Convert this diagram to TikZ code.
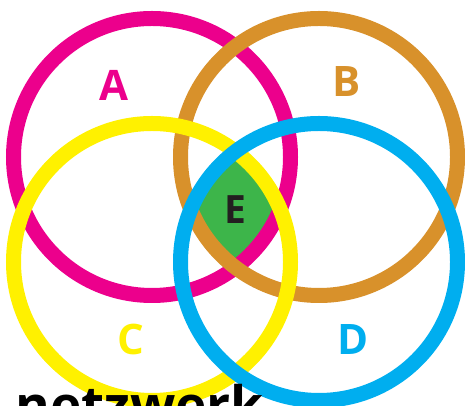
\documentclass[tikz,border=0pt]{standalone}
\usepackage{fontspec}
\setmainfont{Open Sans}
\definecolor{magA}{HTML}{EC008C}
\definecolor{orgB}{HTML}{D8912B}
\definecolor{yelC}{HTML}{FFF100}
\definecolor{cyaD}{HTML}{00AEEF}
\definecolor{grnE}{HTML}{3DB54A}
\definecolor{darkE}{HTML}{231F20}
\begin{document}
\begin{tikzpicture}[x=1pt,y=1pt,
  ring/.style={line width=15pt},
  lbl/.style={font=\fontsize{42}{42}\selectfont\bfseries, anchor=base, inner sep=0pt}]
\useasboundingbox (0,0) rectangle (465,406);
\clip (0,0) rectangle (465,406);
\coordinate (cA) at (152,249);
\coordinate (cB) at (319,249);
\coordinate (cC) at (152,144);
\coordinate (cD) at (319,144);
\begin{scope}
  \clip (cA) circle (138.5);
  \clip (cB) circle (138.5);
  \clip (cC) circle (138.5);
  \fill[grnE] (cD) circle (138.5);
\end{scope}
\draw[ring, magA] (cA) circle (138.5);
\draw[ring, orgB] (cB) circle (138.5);
\draw[ring, yelC] (cC) circle (138.5);
\draw[ring, cyaD] (cD) circle (138.5);
\node[lbl, text=magA] (A) at (113.5,305) {A};
\node[lbl, text=orgB] (B) at (347,309) {B};
\node[lbl, text=yelC] (C) at (131,51) {C};
\node[lbl, text=cyaD] (D) at (353.5,51) {D};
\node[lbl, text=darkE, font=\fontsize{39}{39}\selectfont\bfseries] (E) at (235,182) {E};
\node[font=\fontsize{53}{53}\selectfont\bfseries, anchor=base west, inner sep=0pt, text=black] (N) at (15,-19) {netzwerk};
\end{tikzpicture}
\end{document}
